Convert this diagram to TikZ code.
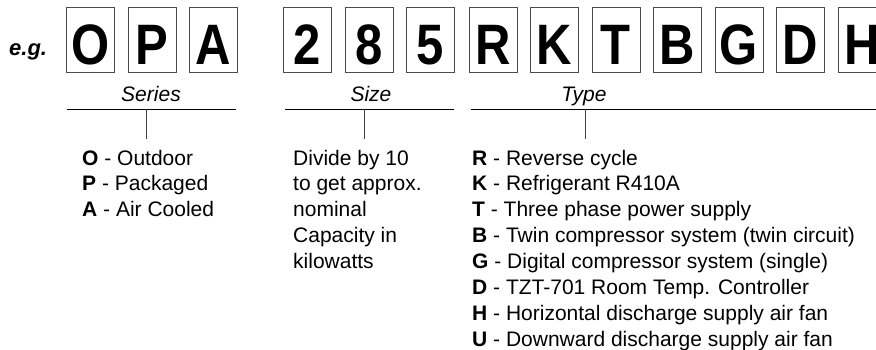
\documentclass[tikz,border=0pt]{standalone}
\usepackage{fontspec}
\setmainfont{Liberation Sans}
\begin{document}
\begin{tikzpicture}[x=1pt,y=-1pt,
  cbox/.style={draw=black!70,line width=0.8pt,minimum width=48pt,minimum height=65pt,inner sep=0pt,anchor=north west},
  bigl/.style={anchor=base,inner sep=0pt,font=\fontsize{57}{57}\selectfont\bfseries},
  lbl/.style={anchor=base,inner sep=0pt,font=\fontsize{21}{26}\selectfont\itshape},
  itm/.style={anchor=base west,inner sep=0pt,font=\fontsize{21}{26}\selectfont},
  hline/.style={draw=black,line width=0.9pt},
  vline/.style={draw=black!75,line width=0.9pt}]
\useasboundingbox (0,0) rectangle (876,349);
\clip (0,0) rectangle (876,349);
\node[anchor=base west,inner sep=0pt,font=\fontsize{22}{22}\selectfont\bfseries\itshape] (eg) at (9,55) {e.g.};
\foreach \ch/\x/\n in {O/66/bO,P/127.5/bP,A/189/bA,2/283/b2,8/344.5/b8,5/406/b5,R/468.5/bR,K/530/bK,T/591.5/bT,B/653/bB,G/714.5/bG,D/776/bD,H/837.5/bH}{
  \node[cbox] (\n) at (\x,7) {};
  \node[bigl] (\n t) at ([yshift=8.7pt]\n.south) {\scalebox{0.86}[1]{\ch}};
}
% labels
\node[lbl] (ser) at (151,101) {Series};
\node[lbl] (siz) at (371,101) {Size};
\node[lbl] (typ) at (584,101) {Type};
% lines
\coordinate (serA) at (67,109); \coordinate (serB) at (236,109);
\coordinate (sizA) at (285,109); \coordinate (sizB) at (454,109);
\coordinate (typA) at (471,109); \coordinate (typB) at (880,109);
\draw[hline] (serA) -- (serB);
\draw[hline] (sizA) -- (sizB);
\draw[hline] (typA) -- (typB);
\coordinate (serV) at (146,109); \coordinate (serW) at (146,139);
\coordinate (sizV) at (364,109); \coordinate (sizW) at (364,139);
\coordinate (typV) at (585,109); \coordinate (typW) at (585,139);
\draw[vline] (serV) -- (serW);
\draw[vline] (sizV) -- (sizW);
\draw[vline] (typV) -- (typW);
% series items
\foreach \b/\t [count=\i] in {O/Outdoor,P/Packaged,A/Air Cooled}{
  \node[itm] (si\i) at (82,{165+25.9*(\i-1)}) {\textbf{\b} - \t};
}
% size items
\foreach \t [count=\i] in {Divide by 10,to get approx.,nominal,Capacity in,kilowatts}{
  \node[itm] (zi\i) at (293,{165+25.9*(\i-1)}) {\t};
}
% type items
\foreach \b/\t [count=\i] in {R/Reverse cycle,K/Refrigerant R410A,T/Three phase power supply,B/Twin compressor system (twin circuit),G/Digital compressor system (single),D/TZT-701 Room Temp. Controller,H/Horizontal discharge supply air fan,U/Downward discharge supply air fan}{
  \node[itm] (ti\i) at (472,{165+25.9*(\i-1)}) {\textbf{\b} - \t};
}
\end{tikzpicture}
\end{document}
